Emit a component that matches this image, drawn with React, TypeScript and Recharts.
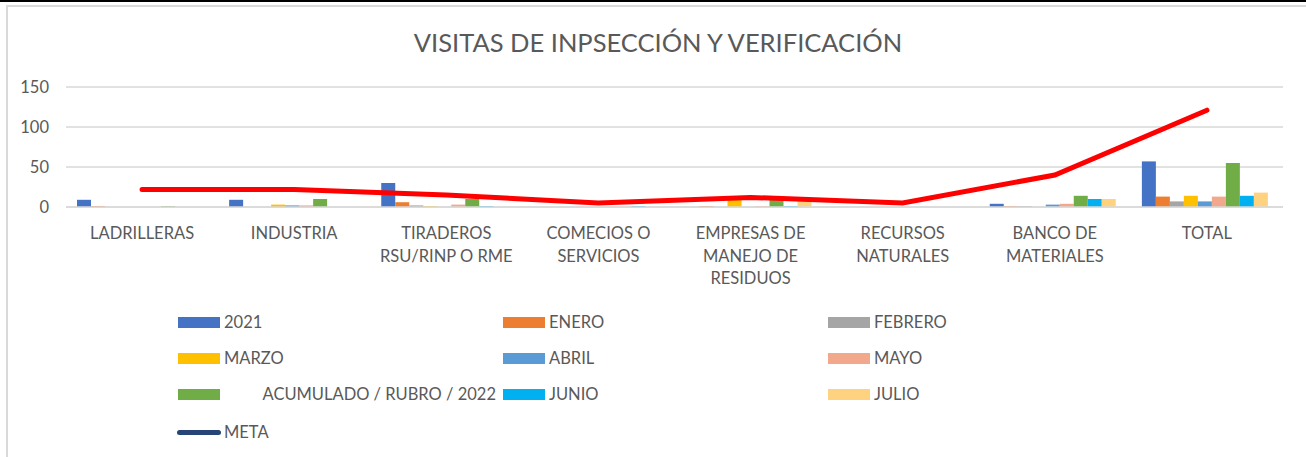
import React from 'react';
import { ComposedChart, Bar, Line, XAxis, YAxis, CartesianGrid, Legend } from 'recharts';

const categories = [
  'LADRILLERAS',
  'INDUSTRIA',
  'TIRADEROS RSU/RINP O RME',
  'COMECIOS O SERVICIOS',
  'EMPRESAS DE MANEJO DE RESIDUOS',
  'RECURSOS NATURALES',
  'BANCO DE MATERIALES',
  'TOTAL',
];

const categoryLines = [
  ['LADRILLERAS'],
  ['INDUSTRIA'],
  ['TIRADEROS', 'RSU/RINP O RME'],
  ['COMECIOS O', 'SERVICIOS'],
  ['EMPRESAS DE', 'MANEJO DE', 'RESIDUOS'],
  ['RECURSOS', 'NATURALES'],
  ['BANCO DE', 'MATERIALES'],
  ['TOTAL'],
];

const yTicks = [0, 50, 100, 150];

const v2021 = [9, 9, 30, 0, 0, 0, 4, 57];
const enero = [1, 0, 6, 0, 1, 0, 1, 13];
const febrero = [0, 0, 2, 0, 0, 0, 1, 7];
const marzo = [0, 3, 1, 0, 10, 0, 0, 14];
const abril = [0, 2, 0, 0, 0, 0, 3, 7];
const mayo = [0, 2, 3, 0, 1, 0, 4, 13];
const acumulado = [1, 10, 10, 0, 9, 0, 14, 55];
const junio = [0, 0, 1, 1, 1, 0, 10, 14];
const julio = [0, 0, 0, 0, 8, 0, 10, 18];
const meta = [22, 22, 15, 5, 12, 5, 40, 121];

const barSeries = [
  { key: 's2021', name: '2021', color: '#4472C4', values: v2021 },
  { key: 'enero', name: 'ENERO', color: '#ED7D31', values: enero },
  { key: 'febrero', name: 'FEBRERO', color: '#A5A5A5', values: febrero },
  { key: 'marzo', name: 'MARZO', color: '#FFC000', values: marzo },
  { key: 'abril', name: 'ABRIL', color: '#5B9BD5', values: abril },
  { key: 'mayo', name: 'MAYO', color: '#F1A88B', values: mayo },
  { key: 'acumulado', name: 'ACUMULADO / RUBRO / 2022', color: '#70AD47', values: acumulado },
  { key: 'junio', name: 'JUNIO', color: '#00B0F0', values: junio },
  { key: 'julio', name: 'JULIO', color: '#FFD27F', values: julio },
];

const data = categories.map((c, i) => {
  const row: Record<string, any> = { category: c, meta: meta[i] };
  barSeries.forEach((s) => {
    row[s.key] = s.values[i];
  });
  return row;
});

const FONT = 'Lato, "Open Sans", sans-serif';
const TXT = '#595959';

const CategoryTick = (props: any) => {
  const { x, y, payload } = props;
  const idx = categories.indexOf(payload.value);
  const lines = idx >= 0 ? categoryLines[idx] : [String(payload.value)];
  return (
    <text x={x} y={y} textAnchor="middle" fill={TXT} fontSize={16.5} fontFamily={FONT}>
      {lines.map((l, i) => (
        <tspan key={i} x={x} y={y + 26 + i * 22.5}>
          {l}
        </tspan>
      ))}
    </text>
  );
};

const rowsY = [322, 358, 394, 432];
const iconX = [178, 503, 828];
const textX = [224, 549, 874];

const LegendBox = () => {
  const items = barSeries.map((s, i) => ({ ...s, row: Math.floor(i / 3), col: i % 3 }));
  return (
    <div style={{ position: 'relative', width: 1306, height: 457, fontFamily: FONT, fontSize: 16.5, color: TXT }}>
      {items.map((it) => (
        <React.Fragment key={it.key}>
          <div
            style={{
              position: 'absolute',
              left: iconX[it.col],
              top: rowsY[it.row] - 5,
              width: 42,
              height: 11,
              background: it.color,
            }}
          />
          {it.key === 'acumulado' ? (
            <div
              style={{
                position: 'absolute',
                right: 1306 - 496,
                top: rowsY[it.row] - 10,
                lineHeight: '20px',
                whiteSpace: 'nowrap',
              }}
            >
              {it.name}
            </div>
          ) : (
            <div
              style={{
                position: 'absolute',
                left: textX[it.col],
                top: rowsY[it.row] - 10,
                lineHeight: '20px',
                whiteSpace: 'nowrap',
              }}
            >
              {it.name}
            </div>
          )}
        </React.Fragment>
      ))}
      <div
        style={{
          position: 'absolute',
          left: iconX[0] - 1,
          top: rowsY[3] - 2,
          width: 44,
          height: 5,
          borderRadius: 3,
          background: '#264478',
        }}
      />
      <div
        style={{
          position: 'absolute',
          left: textX[0],
          top: rowsY[3] - 10,
          lineHeight: '20px',
          whiteSpace: 'nowrap',
        }}
      >
        META
      </div>
    </div>
  );
};

export default function App() {
  return (
    <div
      style={{
        position: 'absolute',
        left: 0,
        top: 0,
        width: 1306,
        height: 457,
        background: '#fff',
        overflow: 'hidden',
        fontFamily: FONT,
      }}
    >
      <div style={{ position: 'absolute', left: 0, top: 0, width: 1306, height: 2, background: '#000' }} />
      <div style={{ position: 'absolute', left: 6, top: 5, width: 1300, height: 2, background: '#d9d9d9' }} />
      <div style={{ position: 'absolute', left: 6, top: 5, width: 2, height: 452, background: '#d9d9d9' }} />
      <div
        style={{
          position: 'absolute',
          left: 0,
          top: 27,
          width: 1316,
          textAlign: 'center',
          fontSize: 25.5,
          lineHeight: '30px',
          color: TXT,
          whiteSpace: 'nowrap',
        }}
      >
        VISITAS DE INPSECCIÓN Y VERIFICACIÓN
      </div>
      <ComposedChart
        width={1306}
        height={457}
        data={data}
        margin={{ top: 87, right: 23, bottom: 170, left: 8 }}
        barCategoryGap={11}
        barGap={0}
      >
        <CartesianGrid vertical={false} stroke="#d9d9d9" strokeWidth={1.3} />
        <XAxis
          dataKey="category"
          interval={0}
          height={80}
          tickLine={false}
          tickMargin={0}
          axisLine={{ stroke: '#d9d9d9', strokeWidth: 1.5 }}
          tick={<CategoryTick />}
        />
        <YAxis
          width={58}
          domain={[0, 150]}
          ticks={yTicks}
          axisLine={false}
          tickLine={false}
          tickMargin={11}
          tick={{ fill: TXT, fontSize: 16.5, fontFamily: FONT }}
        />
        {barSeries.map((s) => (
          <Bar key={s.key} dataKey={s.key} name={s.name} fill={s.color} isAnimationActive={false} />
        ))}
        <Line
          dataKey="meta"
          name="META"
          type="linear"
          stroke="#FF0000"
          strokeWidth={5}
          strokeLinecap="round"
          dot={false}
          activeDot={false}
          isAnimationActive={false}
        />
        <Legend
          layout="vertical"
          align="center"
          verticalAlign="middle"
          wrapperStyle={{ left: 0, top: 0, bottom: 'auto', width: 1306, height: 457, pointerEvents: 'none' }}
          content={() => <LegendBox />}
        />
      </ComposedChart>
    </div>
  );
}
